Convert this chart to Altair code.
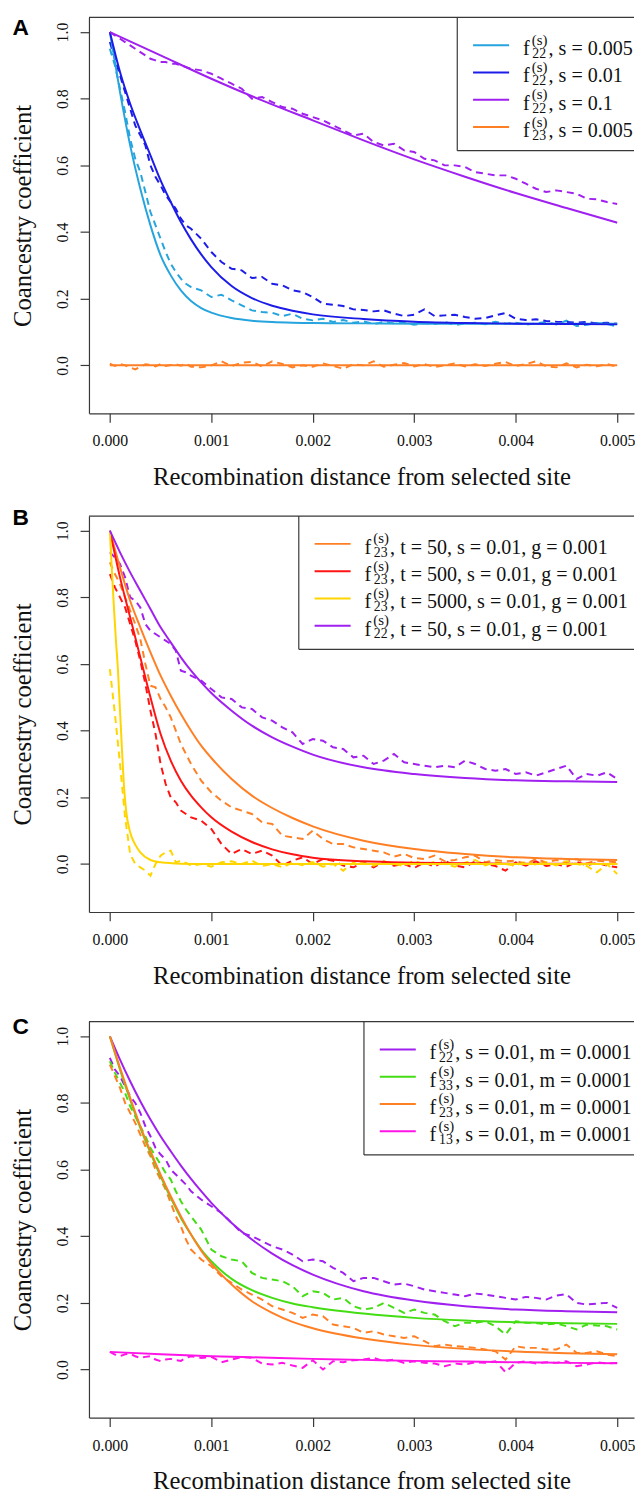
import altair as alt
import pandas as pd

# ---------------- data ----------------
X_GRID = [0.0, 0.0001, 0.0002, 0.0003, 0.0004, 0.0005, 0.0006, 0.0007, 0.0008, 0.0009,
          0.001, 0.0012, 0.0014, 0.0016, 0.0018, 0.002, 0.0025, 0.003, 0.0035, 0.004,
          0.0045, 0.005]
X_HALF = [0.0, 0.0005, 0.001, 0.0015, 0.002, 0.0025, 0.003, 0.0035, 0.004, 0.0045, 0.005]
X_COARSE = [0.0, 0.001, 0.002, 0.003, 0.004, 0.005]
X_FAST = [0.0, 0.00002, 0.00004, 0.00006, 0.00008, 0.0001, 0.00012, 0.00014, 0.00016,
          0.0002, 0.00025, 0.0003, 0.0004, 0.0005, 0.0007, 0.001, 0.002, 0.005]
DX = [0.0, 0.00005, 0.0001, 0.00015, 0.0002, 0.00025, 0.0003, 0.00035, 0.0004, 0.00045,
      0.0005, 0.00055, 0.0006, 0.00065, 0.0007, 0.00075, 0.0008,
      0.0009, 0.001, 0.0011, 0.0012, 0.0013, 0.0014, 0.0015, 0.0016, 0.0017, 0.0018,
      0.0019, 0.002, 0.0021, 0.0022, 0.0023, 0.0024, 0.0025, 0.0026, 0.0027, 0.0028,
      0.0029, 0.003, 0.0031, 0.0032, 0.0033, 0.0034, 0.0035, 0.0036, 0.0037, 0.0038,
      0.0039, 0.004, 0.0041, 0.0042, 0.0043, 0.0044, 0.0045, 0.0046, 0.0047, 0.0048,
      0.0049, 0.005]

# Panel A
A_CYAN_SOLID = [1.0, 0.82, 0.66, 0.53, 0.42, 0.33, 0.27, 0.225, 0.193, 0.172, 0.158, 0.142,
                0.134, 0.13, 0.128, 0.127, 0.126, 0.125, 0.125, 0.125, 0.125, 0.125]
A_BLUE_SOLID = [1.0, 0.88, 0.785, 0.705, 0.63, 0.555, 0.49, 0.43, 0.378, 0.333, 0.295, 0.238,
                0.202, 0.179, 0.164, 0.153, 0.139, 0.131, 0.127, 0.125, 0.124, 0.123]
A_PURPLE_SOLID = [1.0, 0.93, 0.86, 0.795, 0.735, 0.675, 0.618, 0.566, 0.517, 0.472, 0.428]
A_ORANGE_SOLID = [0.0, 0.0, 0.0, 0.0, 0.0, 0.0]
A_CYAN_DASH = [0.95, 0.9, 0.83, 0.76, 0.68, 0.62, 0.58, 0.52, 0.46, 0.42, 0.38, 0.34, 0.305,
               0.28, 0.26, 0.245, 0.235,
               0.225, 0.205, 0.212, 0.195, 0.18, 0.165, 0.16, 0.158, 0.148, 0.155, 0.14,
               0.135, 0.14, 0.13, 0.136, 0.128, 0.132, 0.124, 0.13, 0.126, 0.128, 0.122,
               0.127, 0.124, 0.13, 0.121, 0.126, 0.128, 0.123, 0.131, 0.125, 0.128, 0.122,
               0.126, 0.13, 0.123, 0.134, 0.118, 0.122, 0.127, 0.124, 0.116]
A_BLUE_DASH = [0.97, 0.92, 0.87, 0.82, 0.77, 0.72, 0.69, 0.66, 0.6, 0.565, 0.54, 0.51, 0.49,
               0.47, 0.44, 0.42, 0.41,
               0.38, 0.34, 0.31, 0.29, 0.285, 0.262, 0.265, 0.245, 0.24, 0.225, 0.22, 0.205,
               0.185, 0.182, 0.178, 0.168, 0.166, 0.162, 0.165, 0.155, 0.148, 0.152, 0.168,
               0.148, 0.15, 0.152, 0.145, 0.14, 0.142, 0.15, 0.157, 0.14, 0.136, 0.138,
               0.133, 0.131, 0.13, 0.128, 0.13, 0.126, 0.128, 0.125]
A_PURPLE_DASH = [1.0, 0.99, 0.98, 0.97, 0.96, 0.95, 0.94, 0.93, 0.92, 0.915, 0.91, 0.91, 0.905,
                 0.905, 0.9, 0.895, 0.89,
                 0.885, 0.875, 0.86, 0.845, 0.83, 0.8, 0.805, 0.79, 0.775, 0.77, 0.755, 0.745,
                 0.735, 0.72, 0.705, 0.69, 0.695, 0.67, 0.66, 0.665, 0.645, 0.64, 0.62, 0.615,
                 0.6, 0.6, 0.595, 0.58, 0.575, 0.57, 0.57, 0.56, 0.545, 0.53, 0.52, 0.525,
                 0.52, 0.515, 0.5, 0.498, 0.49, 0.484]
A_ORANGE_DASH = [0.005, -0.002, 0.004, 0.0, -0.006, -0.012, -0.004, 0.003, 0.002, -0.003,
                 0.004, -0.002, 0.001, 0.003, -0.001, 0.005, -0.004,
                 -0.006, 0.0, 0.012, -0.002, 0.008, 0.01, -0.003, 0.012, 0.004, -0.006, 0.0,
                 -0.004, 0.006, -0.002, -0.01, 0.003, 0.0, 0.012, -0.004, 0.002, 0.007,
                 -0.003, 0.004, -0.005, 0.0, 0.006, -0.003, 0.003, -0.002, 0.005, 0.01,
                 -0.002, 0.004, 0.012, -0.003, -0.006, 0.006, -0.006, 0.002, -0.003, 0.004,
                 -0.004]

# Panel B
B_ORANGE_SOLID = [1.0, 0.89, 0.79, 0.71, 0.635, 0.565, 0.505, 0.45, 0.40, 0.355, 0.318, 0.255,
                  0.205, 0.168, 0.138, 0.113, 0.07, 0.045, 0.03, 0.02, 0.015, 0.012]
B_RED_SOLID = [1.0, 0.86, 0.74, 0.62, 0.50, 0.39, 0.31, 0.25, 0.205, 0.17, 0.14, 0.097, 0.066,
               0.044, 0.029, 0.019, 0.008, 0.004, 0.002, 0.001, 0.001, 0.0]
B_YELLOW_SOLID = [1.0, 0.88, 0.77, 0.67, 0.58, 0.46, 0.34, 0.23, 0.16, 0.095, 0.058, 0.035,
                  0.012, 0.005, 0.001, 0.0, 0.0, 0.0]
B_PURPLE_SOLID = [1.0, 0.935, 0.875, 0.82, 0.765, 0.71, 0.665, 0.62, 0.58, 0.545, 0.513, 0.46,
                  0.415, 0.38, 0.352, 0.328, 0.29, 0.27, 0.258, 0.251, 0.248, 0.246]
B_ORANGE_DASH = [0.905, 0.87, 0.84, 0.8, 0.76, 0.72, 0.675, 0.6, 0.535, 0.53, 0.495, 0.47,
                 0.44, 0.4, 0.36, 0.33, 0.3,
                 0.25, 0.215, 0.19, 0.17, 0.16, 0.15, 0.125, 0.12, 0.085, 0.08, 0.075, 0.1,
                 0.075, 0.06, 0.06, 0.05, 0.045, 0.04, 0.035, 0.022, 0.03, 0.018, 0.015,
                 0.025, 0.008, 0.012, 0.02, 0.025, 0.005, 0.012, 0.008, 0.01, 0.0, 0.015,
                 0.005, 0.012, 0.006, 0.015, 0.002, 0.01, 0.008, 0.005]
B_RED_DASH = [0.87, 0.83, 0.8, 0.77, 0.72, 0.67, 0.61, 0.54, 0.46, 0.39, 0.3, 0.24, 0.2,
              0.185, 0.16, 0.15, 0.14,
              0.13, 0.105, 0.06, 0.03, 0.045, 0.03, 0.04, 0.025, -0.005, 0.01, 0.02, 0.0,
              0.015, 0.01, -0.005, -0.01, 0.005, -0.01, 0.008, -0.005, 0.0, -0.012, 0.005,
              -0.008, 0.01, -0.005, -0.01, 0.008, 0.0, -0.006, -0.02, 0.005, -0.005, 0.008,
              -0.006, 0.0, -0.008, 0.006, -0.004, 0.003, -0.005, -0.01]
B_YELLOW_DASH = [0.585, 0.45, 0.3, 0.14, 0.03, 0.0, -0.01, -0.02, -0.035, 0.0, 0.025, 0.035,
                 0.04, 0.005, 0.01, 0.003, -0.005,
                 0.0, -0.008, 0.005, 0.008, 0.0, 0.01, -0.006, 0.0, -0.01, 0.004, -0.004,
                 0.006, -0.008, 0.0, -0.02, 0.005, 0.002, -0.005, 0.008, 0.0, -0.006, 0.01,
                 -0.003, 0.006, 0.0, -0.008, 0.004, 0.012, -0.004, 0.006, 0.0, -0.005, 0.008,
                 -0.003, 0.006, -0.004, 0.008, 0.0, -0.006, -0.025, 0.0, -0.03]
B_PURPLE_DASH = [0.935, 0.92, 0.9, 0.86, 0.8, 0.79, 0.77, 0.72, 0.7, 0.69, 0.68, 0.67, 0.66,
                 0.64, 0.58, 0.575, 0.565,
                 0.55, 0.525, 0.5, 0.495, 0.47, 0.465, 0.44, 0.43, 0.41, 0.395, 0.36, 0.375,
                 0.37, 0.35, 0.345, 0.32, 0.325, 0.3, 0.31, 0.33, 0.305, 0.3, 0.295, 0.29,
                 0.295, 0.29, 0.31, 0.3, 0.285, 0.28, 0.285, 0.27, 0.275, 0.265, 0.275, 0.285,
                 0.295, 0.255, 0.27, 0.265, 0.275, 0.255]

# Panel C
C_PURPLE_SOLID = [1.0, 0.93, 0.865, 0.805, 0.75, 0.70, 0.655, 0.612, 0.572, 0.535, 0.5, 0.44,
                  0.39, 0.348, 0.313, 0.285, 0.235, 0.207, 0.19, 0.18, 0.175, 0.172]
C_GREEN_SOLID = [1.0, 0.9, 0.81, 0.725, 0.65, 0.58, 0.515, 0.455, 0.405, 0.36, 0.325, 0.272,
                 0.238, 0.215, 0.198, 0.187, 0.168, 0.155, 0.147, 0.142, 0.139, 0.137]
C_ORANGE_SOLID = [1.0, 0.905, 0.815, 0.73, 0.655, 0.585, 0.52, 0.46, 0.405, 0.357, 0.318,
                  0.255, 0.205, 0.17, 0.143, 0.124, 0.093, 0.074, 0.062, 0.054, 0.049, 0.046]
C_MAGENTA_SOLID = [0.053, 0.046, 0.04, 0.036, 0.032, 0.029, 0.026, 0.024, 0.022, 0.02, 0.019]
C_PURPLE_DASH = [0.935, 0.9, 0.88, 0.85, 0.82, 0.8, 0.77, 0.73, 0.7, 0.665, 0.645, 0.63, 0.6,
                 0.585, 0.57, 0.555, 0.535,
                 0.51, 0.49, 0.47, 0.44, 0.41, 0.4, 0.385, 0.37, 0.36, 0.345, 0.325, 0.33,
                 0.325, 0.305, 0.29, 0.265, 0.275, 0.275, 0.265, 0.255, 0.258, 0.25, 0.24,
                 0.235, 0.23, 0.225, 0.22, 0.228, 0.225, 0.22, 0.215, 0.21, 0.218, 0.215,
                 0.21, 0.222, 0.226, 0.2, 0.195, 0.198, 0.2, 0.185]
C_GREEN_DASH = [0.925, 0.89, 0.86, 0.83, 0.79, 0.76, 0.73, 0.7, 0.665, 0.64, 0.615, 0.59,
                0.57, 0.535, 0.505, 0.48, 0.46,
                0.42, 0.36, 0.34, 0.33, 0.325, 0.29, 0.275, 0.27, 0.265, 0.25, 0.22, 0.235,
                0.23, 0.21, 0.215, 0.19, 0.18, 0.185, 0.2, 0.185, 0.17, 0.18, 0.17, 0.165,
                0.145, 0.13, 0.14, 0.14, 0.145, 0.13, 0.105, 0.145, 0.14, 0.14, 0.135, 0.138,
                0.13, 0.12, 0.135, 0.132, 0.13, 0.12]
C_ORANGE_DASH = [0.915, 0.88, 0.845, 0.8, 0.77, 0.74, 0.705, 0.67, 0.64, 0.6, 0.57, 0.54, 0.5,
                 0.46, 0.43, 0.39, 0.36,
                 0.33, 0.31, 0.28, 0.26, 0.24, 0.225, 0.21, 0.19, 0.18, 0.17, 0.155, 0.165,
                 0.16, 0.135, 0.13, 0.125, 0.11, 0.115, 0.105, 0.1, 0.095, 0.1, 0.085, 0.07,
                 0.075, 0.07, 0.068, 0.065, 0.06, 0.055, 0.03, 0.07, 0.065, 0.065, 0.06, 0.06,
                 0.075, 0.05, 0.05, 0.055, 0.045, 0.04]
C_MAGENTA_DASH = [0.053, 0.045, 0.04, 0.046, 0.048, 0.04, 0.035, 0.038, 0.04, 0.03, 0.025,
                  0.03, 0.032, 0.028, 0.026, 0.035, 0.04,
                  0.035, 0.038, 0.022, 0.03, 0.038, 0.035, 0.018, 0.015, 0.02, 0.012, 0.005,
                  0.028, 0.0, 0.025, 0.022, 0.028, 0.03, 0.035, 0.025, 0.03, 0.02, 0.025, 0.02,
                  0.018, 0.01, 0.018, 0.015, 0.022, 0.02, 0.025, -0.008, 0.02, 0.025, 0.018,
                  0.022, 0.02, 0.025, 0.01, 0.015, 0.022, 0.018, 0.02]

X_TICKS = [0.0, 0.001, 0.002, 0.003, 0.004, 0.005]
Y_TICKS = [0.0, 0.2, 0.4, 0.6, 0.8, 1.0]

CYAN, BLUE, PURPLE, ORANGE = "#26a4de", "#1c1ce8", "#a020f0", "#ff7f24"
RED, YELLOW, GREEN, MAGENTA = "#ff1414", "#ffd500", "#44dd14", "#ff14e8"

A_LEGEND_SUB = ["22", "22", "22", "23"]
A_LEGEND_REST = [", s = 0.005", ", s = 0.01", ", s = 0.1", ", s = 0.005"]
B_LEGEND_SUB = ["23", "23", "23", "22"]
B_LEGEND_REST = [", t = 50, s = 0.01, g = 0.001", ", t = 500, s = 0.01, g = 0.001",
                 ", t = 5000, s = 0.01, g = 0.001", ", t = 50, s = 0.01, g = 0.001"]
C_LEGEND_SUB = ["22", "33", "23", "13"]
C_LEGEND_REST = [", s = 0.01, m = 0.0001"] * 4

# ---------------- layout / style ----------------
SERIF = "Liberation Serif"
SANS = "Liberation Sans"
FRAME = "#383838"
TXT = "#111111"
W, H = 552, 401               # one panel's plot area
TOP_A, TOP_B, TOP_C = 0, 505, 1017
TOTAL_H = TOP_C + H
XDOM = [-0.000206, 0.005166]
YDOM = [-0.144, 1.044]
DUMMY = pd.DataFrame({"d": [0]})


def x_axis(offset):
    return alt.Axis(values=X_TICKS, format=".3f", title="Recombination distance from selected site",
                    orient="bottom", offset=offset,
                    grid=False, domain=True, domainColor=FRAME, domainWidth=1.2,
                    ticks=True, tickSize=9, tickColor=FRAME, tickWidth=1.2,
                    labelFont=SERIF, labelFontSize=16, labelColor=TXT, labelPadding=24,
                    labelBaseline="alphabetic", labelAlign="center", labelOverlap=False,
                    labelFlush=False,
                    titleFont=SERIF, titleFontSize=25, titleFontWeight="normal",
                    titleColor=TXT, titleX=W / 2, titleY=72, titleBaseline="alphabetic",
                    titleAlign="center")


def y_axis(top):
    return alt.Axis(values=Y_TICKS, format=".1f", title="Coancestry coefficient",
                    orient="left",
                    grid=False, domain=True, domainColor=FRAME, domainWidth=1.2,
                    ticks=True, tickSize=9, tickColor=FRAME, tickWidth=1.2,
                    labelFont=SERIF, labelFontSize=16, labelColor=TXT, labelPadding=13,
                    labelAngle=270, labelAlign="center", labelBaseline="alphabetic",
                    labelOverlap=False, labelFlush=False,
                    titleFont=SERIF, titleFontSize=25, titleFontWeight="normal",
                    titleColor=TXT, titleAngle=270, titleX=-59.5, titleY=top + H / 2,
                    titleBaseline="alphabetic", titleAlign="center")


def frame_df(series, which):
    rows = []
    for s in series:
        xs, ys = (s[2], s[3]) if which == "solid" else (s[4], s[5])
        for a, b in zip(xs, ys):
            rows.append({"x": a, "y": b, "s": s[0]})
    return pd.DataFrame(rows)


def panel(letter, letter_rel, top, series, subs, rests, bx, bh=135):
    names = [s[0] for s in series]
    colors = [s[1] for s in series]
    cscale = alt.Scale(domain=names, range=colors)
    xenc = alt.X("x:Q", scale=alt.Scale(domain=XDOM, nice=False, zero=False),
                 axis=x_axis(top + H - TOTAL_H))
    yenc = alt.Y("y:Q", scale=alt.Scale(domain=YDOM, range=[top + H, top], nice=False,
                                        zero=False), axis=y_axis(top))
    cenc = alt.Color("s:N", scale=cscale, legend=None)

    dashed = alt.Chart(frame_df(series, "dash")).mark_line(
        strokeWidth=2, strokeDash=[7, 5]).encode(x=xenc, y=yenc, color=cenc)
    solid = alt.Chart(frame_df(series, "solid")).mark_line(
        strokeWidth=2, interpolate="monotone").encode(x=xenc, y=yenc, color=cenc)

    layers = [dashed, solid]
    base = alt.Chart(DUMMY)
    # legend box (its right edge lies outside the picture, as in the reference)
    layers.append(base.mark_rect(fill="white", strokeWidth=0).encode(
        x=alt.value(bx), x2=alt.value(W), y=alt.value(top), y2=alt.value(top + bh)))
    layers.append(base.mark_rule(color=FRAME, strokeWidth=1.2).encode(
        x=alt.value(bx), y=alt.value(top), y2=alt.value(top + bh)))
    layers.append(base.mark_rule(color=FRAME, strokeWidth=1.2).encode(
        x=alt.value(bx), x2=alt.value(W), y=alt.value(top + bh)))
    # top frame line of the panel
    layers.append(base.mark_rule(color=FRAME, strokeWidth=1.2).encode(
        x=alt.value(0), x2=alt.value(W), y=alt.value(top)))
    for i, (c, sub, rest) in enumerate(zip(colors, subs, rests)):
        ry = top + 28.2 + 27.6 * i
        layers.append(base.mark_rule(color=c, strokeWidth=2).encode(
            x=alt.value(bx + 16), x2=alt.value(bx + 52.5), y=alt.value(ry)))
        layers.append(base.mark_text(text="f", font=SERIF, fontSize=20.3, align="left",
                                     baseline="alphabetic", color=TXT).encode(
            x=alt.value(bx + 66.5), y=alt.value(ry + 10)))
        layers.append(base.mark_text(text="(s)", font=SERIF, fontSize=15, align="left",
                                     baseline="alphabetic", color=TXT).encode(
            x=alt.value(bx + 75.5), y=alt.value(ry - 0.5)))
        layers.append(base.mark_text(text=sub, font=SERIF, fontSize=14, align="left",
                                     baseline="alphabetic", color=TXT).encode(
            x=alt.value(bx + 76), y=alt.value(ry + 13)))
        layers.append(base.mark_text(text=rest, font=SERIF, fontSize=20.3, align="left",
                                     baseline="alphabetic", color=TXT).encode(
            x=alt.value(bx + 92.5), y=alt.value(ry + 10)))
    layers.append(base.mark_text(text=letter, font=SANS, fontSize=23, fontWeight="bold",
                                 align="left", baseline="alphabetic", color="black").encode(
        x=alt.value(-77.5), y=alt.value(top + letter_rel)))
    return alt.layer(*layers)


series_A = [
    ("A_cyan", CYAN, X_GRID, A_CYAN_SOLID, DX, A_CYAN_DASH),
    ("A_blue", BLUE, X_GRID, A_BLUE_SOLID, DX, A_BLUE_DASH),
    ("A_purple", PURPLE, X_HALF, A_PURPLE_SOLID, DX, A_PURPLE_DASH),
    ("A_orange", ORANGE, X_COARSE, A_ORANGE_SOLID, DX, A_ORANGE_DASH),
]
series_B = [
    ("B_orange", ORANGE, X_GRID, B_ORANGE_SOLID, DX, B_ORANGE_DASH),
    ("B_red", RED, X_GRID, B_RED_SOLID, DX, B_RED_DASH),
    ("B_yellow", YELLOW, X_FAST, B_YELLOW_SOLID, DX, B_YELLOW_DASH),
    ("B_purple", PURPLE, X_GRID, B_PURPLE_SOLID, DX, B_PURPLE_DASH),
]
series_C = [
    ("C_purple", PURPLE, X_GRID, C_PURPLE_SOLID, DX, C_PURPLE_DASH),
    ("C_green", GREEN, X_GRID, C_GREEN_SOLID, DX, C_GREEN_DASH),
    ("C_orange", ORANGE, X_GRID, C_ORANGE_SOLID, DX, C_ORANGE_DASH),
    ("C_magenta", MAGENTA, X_HALF, C_MAGENTA_SOLID, DX, C_MAGENTA_DASH),
]

pA = panel("A", 18, TOP_A, series_A, A_LEGEND_SUB, A_LEGEND_REST, 373)
pB = panel("B", 9, TOP_B, series_B, B_LEGEND_SUB, B_LEGEND_REST, 212.5)
pC = panel("C", 13, TOP_C, series_C, C_LEGEND_SUB, C_LEGEND_REST, 278.5)

chart = alt.layer(pA, pB, pC).resolve_scale(
    x="independent", y="independent", color="independent"
).properties(
    width=W, height=TOTAL_H,
    autosize=alt.AutoSizeParams(type="none"),
    padding={"left": 82, "top": 0, "right": 1, "bottom": 75},
    background="white",
).configure_view(stroke="transparent")

chart.save("out.html", embed_options={"renderer": "svg", "actions": False})
